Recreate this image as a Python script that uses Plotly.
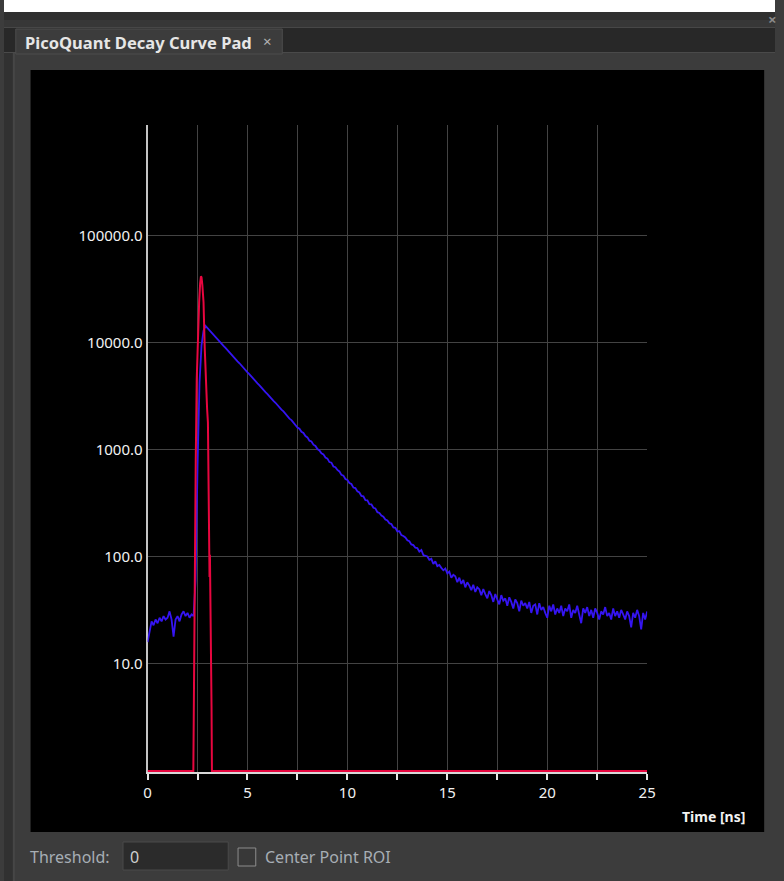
import plotly.graph_objects as go

# ---------------- data ----------------
time_ns = [round(i * 0.1, 1) for i in range(251)]

decay_counts = [
    16, 21, 25, 23, 26, 24, 27, 25, 28, 26, 27, 31, 26, 18, 26, 28, 25, 29, 31, 28, 30, 27, 29, 28,
    60, 700, 4300, 9500, 13000, 14400,
    13700, 13150, 12480, 11950, 11380, 10840, 10380, 9850, 9400, 8990,
    8540, 8180, 7770, 7400, 7090, 6730, 6460, 6120, 5850, 5600,
    5310, 5090, 4830, 4630, 4400, 4190, 4020, 3810, 3660, 3470,
    3330, 3150, 3030, 2870, 2760, 2610, 2510, 2380, 2290, 2160,
    2080, 1960, 1900, 1790, 1730, 1620, 1580, 1480, 1440, 1350,
    1310, 1220, 1200, 1120, 1090, 1020, 990, 930, 910, 850,
    830, 770, 760, 700, 690, 650, 630, 585, 575, 535,
    525, 490, 480, 445, 440, 410, 400, 372, 368, 340,
    338, 312, 310, 288, 284, 262, 258, 244, 238, 224,
    219, 206, 203, 189, 187, 173, 174, 160, 157, 152,
    143, 140, 131, 129, 122, 121, 112, 116, 104, 103,
    101, 94, 96, 86, 91, 82, 84, 79, 75, 78,
    70, 73, 64, 68, 66, 58, 64, 56, 61, 52,
    58, 54, 49, 55, 47, 52, 50, 44, 50, 45,
    41, 48, 44, 38, 45, 40, 36, 44, 39, 41,
    35, 42, 38, 33, 40, 37, 31, 39, 35, 37,
    33, 38, 30, 35, 36, 29, 37, 32, 34, 30,
    27, 35, 31, 36, 29, 33, 30, 35, 28, 33,
    31, 36, 27, 32, 30, 35, 29, 24, 33, 30,
    34, 28, 32, 27, 33, 30, 26, 31, 29, 34,
    28, 30, 26, 33, 28, 31, 27, 32, 29, 26,
    31, 28, 22, 30, 27, 32, 28, 21, 30, 26,
    31,
]

irf_time = [0.0, 2.29, 2.31, 2.34, 2.37, 2.41, 2.46, 2.52, 2.58, 2.63, 2.67, 2.70, 2.74, 2.80,
            2.86, 2.92, 2.98, 3.02, 3.05, 3.07, 3.10, 3.12, 3.14, 3.16, 3.18, 3.20, 3.22, 25.0]
irf_counts = [1, 1, 3, 25, 120, 800, 4600, 12000, 24000, 36000, 42000, 41000, 35000, 24000,
              9000, 3500, 2400, 1800, 400, 110, 65, 105, 60, 20, 10, 4, 1, 1]

x_tick_vals = [0, 5, 10, 15, 20, 25]
x_tick_text = ["0", "5", "10", "15", "20", "25"]
x_minor_vals = [2.5, 7.5, 12.5, 17.5, 22.5]
y_tick_vals = [10, 100, 1000, 10000, 100000]
y_tick_text = ["10.0", "100.0", "1000.0", "10000.0", "100000.0"]

# ---------------- figure ----------------
W, H = 784, 881


def px_x(x):
    return x / W


def px_y(y):
    return 1 - y / H


FONT = "Noto Sans"

fig = go.Figure()
fig.add_trace(go.Scatter(x=time_ns, y=decay_counts, mode="lines",
                         line=dict(color="#3514f2", width=1.8), showlegend=False))
fig.add_trace(go.Scatter(x=irf_time, y=irf_counts, mode="lines",
                         line=dict(color="#e8063f", width=2), showlegend=False))


def rect(x0, y0, x1, y1, fill, line=None, lw=0):
    return dict(type="rect", xref="paper", yref="paper", layer="below",
                x0=px_x(x0), x1=px_x(x1), y0=px_y(y1), y1=px_y(y0),
                fillcolor=fill, line=dict(color=line or fill, width=lw))


shapes = [
    rect(0, 0, 784, 12, "#ffffff"),
    rect(0, 12, 784, 20, "#2f2f2f"),
    rect(0, 20, 784, 27, "#373737"),
    rect(0, 27, 784, 28, "#474747"),
    rect(0, 28, 784, 52, "#282828"),
    rect(0, 52, 784, 53, "#4a4a4a"),
    rect(12, 29, 283, 54, "#3c3c3c", "#4c4c4c", 1),
    rect(0, 53, 9, 881, "#313131"),
    rect(9, 53, 11, 881, "#464646"),
    rect(27, 70, 773, 832, "#000000"),
    rect(121, 842, 228, 870, "#2b2b2b", "#4a4a4a", 1),
    rect(238, 848, 256, 866, "#383838", "#8c8c8c", 1),
]


def label(text, x, y, size=14, color="#a7aeb5", bold=False, anchor="left"):
    return dict(text=("<b>%s</b>" % text) if bold else text, x=px_x(x), y=px_y(y),
                xref="paper", yref="paper", xanchor=anchor, yanchor="middle",
                showarrow=False, font=dict(family=FONT, size=size, color=color))


annotations = [
    label("PicoQuant Decay Curve Pad", 19, 42, 16.5, "#e6e6e6", True),
    label("×", 268, 41, 15, "#b4b4b4", False, "center"),
    label("×", 781, 19, 15, "#8a8a8a", True, "center"),
    label("Time [ns]", 721, 816, 14, "#f2f2f2", True, "center"),
    label("Threshold:", 24, 857, 16),
    label("0", 126, 857, 16, "#cfcfcf"),
    label("Center Point ROI", 263, 857, 16),
]

fig.update_layout(
    width=W, height=H, margin=dict(l=0, r=0, t=0, b=0),
    paper_bgcolor="#3c3c3c", plot_bgcolor="#000000",
    shapes=shapes, annotations=annotations,
    xaxis=dict(
        domain=[px_x(146), px_x(654)], range=[0, 25],
        tickvals=x_tick_vals, ticktext=x_tick_text,
        ticks="outside", ticklen=6, tickwidth=1.5, tickcolor="#e6e6e6",
        showline=True, linecolor="#d8d8d8", linewidth=1.5,
        showgrid=True, gridcolor="#434343", gridwidth=1, zeroline=False,
        minor=dict(tickvals=x_minor_vals, ticks="outside", ticklen=6, tickwidth=1.5,
                   tickcolor="#e6e6e6", showgrid=True, gridcolor="#434343", gridwidth=1),
        tickfont=dict(family=FONT, size=15, color="#f2f2f2"),
        layer="below traces",
    ),
    yaxis=dict(
        type="log", domain=[px_y(772), px_y(125)], range=[-0.01, 6.037],
        tickvals=y_tick_vals, ticktext=y_tick_text,
        ticks="", showline=True, linecolor="#c4c4c4", linewidth=2,
        showgrid=True, gridcolor="#434343", gridwidth=1, zeroline=False,
        tickfont=dict(family=FONT, size=15, color="#f2f2f2"),
        layer="below traces",
    ),
)

fig.write_html(
    "out.html", config={"displayModeBar": False},
    post_script=("document.documentElement.style.overflow='hidden';"
                 "document.body.style.margin='0';document.body.style.overflow='hidden';"),
)
